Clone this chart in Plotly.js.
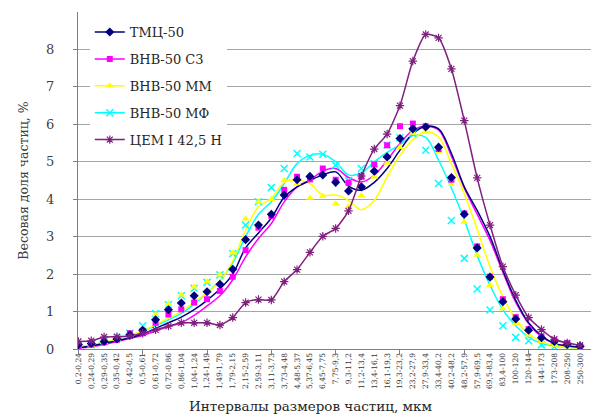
<!DOCTYPE html>
<html><head><meta charset="utf-8">
<script src="https://cdn.plot.ly/plotly-3.0.1.min.js"></script>
<style>html,body{margin:0;padding:0;background:#fff}</style>
</head><body><div id="chart" style="width:592px;height:414px"></div>
<script>
const categories = ["0,2-0,24","0,24-0,29","0,29-0,35","0,35-0,42","0,42-0,5","0,5-0,61","0,61-0,72","0,72-0,86","0,86-1,04","1,04-1,24",
"1,24-1,49","1,49-1,79","1,79-2,15","2,15-2,59","2,59-3,11","3,11-3,73","3,73-4,48","4,48-5,37","5,37-6,45","6,45-7,75",
"7,75-9,3","9,3-11,2","11,2-13,4","13,4-16,1","16,1-19,3","19,3-23,2","23,2-27,9","27,9-33,4","33,4-40,2","40,2-48,2",
"48,2-57,9","57,9-69,5","69,5-83,4","83,4-100","100-120","120-144","144-173","173-208","208-250","250-300"];

const seriesNames = ["ТМЦ-50","ВНВ-50 С3","ВНВ-50 ММ","ВНВ-50 МФ","ЦЕМ I 42,5 Н"];

// measured points (markers)
const tmcPts = [0.12,0.15,0.2,0.27,0.38,0.5,0.78,1.05,1.23,1.42,1.53,1.73,2.13,2.92,3.31,3.6,4.11,4.52,4.61,4.65,4.45,4.22,4.33,4.75,5.13,5.62,5.88,5.93,5.39,4.58,3.6,2.7,1.92,1.26,0.8,0.5,0.3,0.2,0.12,0.07];
const c3Pts = [0.08,0.12,0.18,0.25,0.42,0.48,0.7,0.92,1.06,1.24,1.33,1.55,1.93,2.64,3.24,3.55,4.25,4.6,4.53,4.82,4.52,4.44,4.6,4.93,5.44,5.95,6.02,5.95,5.34,4.52,3.62,2.74,1.93,1.33,0.85,0.53,0.34,0.22,0.15,0.08];
const mmPts = [0.0,0.1,0.18,0.28,0.38,0.55,0.92,1.2,1.45,1.66,1.8,1.98,2.57,3.48,3.93,4.0,4.51,4.42,4.03,4.08,3.88,3.8,4.1,4.6,4.97,5.39,5.77,5.8,5.28,4.4,3.39,2.51,1.7,1.08,0.68,0.38,0.2,0.11,0.06,0.03];
const mfPts = [0.1,0.12,0.22,0.3,0.42,0.62,0.95,1.18,1.42,1.62,1.78,1.98,2.55,3.31,3.93,4.31,4.82,5.22,5.13,5.2,4.91,4.5,4.82,4.95,5.45,5.64,5.75,5.31,4.42,3.43,2.42,1.6,1.04,0.62,0.31,0.22,0.11,0.06,0.03,0.02];
const cemPts = [0.2,0.22,0.32,0.33,0.35,0.42,0.51,0.61,0.7,0.7,0.7,0.64,0.84,1.24,1.32,1.31,1.8,2.12,2.58,3.01,3.22,3.69,4.62,5.34,5.74,6.5,7.69,8.4,8.31,7.48,6.1,4.57,3.31,2.2,1.44,0.84,0.52,0.26,0.16,0.1];

// smoothed curves
const tmcCurve = [0.03,0.08,0.15,0.22,0.3,0.4,0.55,0.7,0.85,1.05,1.3,1.6,2.0,2.7,3.1,3.5,4.05,4.33,4.5,4.65,4.73,4.35,4.24,4.45,4.82,5.31,5.75,5.95,5.88,5.22,4.33,3.7,3.0,2.1,1.3,0.7,0.35,0.15,0.08,0.05];
const c3Curve = [0.02,0.06,0.12,0.2,0.28,0.36,0.48,0.6,0.7,0.9,1.15,1.42,1.85,2.46,2.95,3.35,3.93,4.33,4.51,4.75,4.82,4.58,4.46,4.64,5.04,5.49,5.84,5.95,5.85,5.15,4.3,3.6,2.9,2.05,1.25,0.68,0.33,0.15,0.08,0.05];
const mmCurve = [0.05,0.1,0.18,0.26,0.36,0.48,0.65,0.82,1.0,1.25,1.5,1.8,2.35,3.17,3.8,4.02,4.45,4.51,4.42,4.11,4.11,3.97,3.72,3.97,4.6,5.17,5.59,5.8,5.66,4.95,4.15,3.2,2.2,1.4,0.8,0.4,0.2,0.1,0.05,0.03];
const mfCurve = [0.06,0.1,0.18,0.26,0.36,0.48,0.62,0.78,0.95,1.2,1.5,1.82,2.3,3.0,3.6,3.93,4.42,4.95,5.17,5.2,5.0,4.65,4.7,5.0,5.25,5.45,5.7,5.65,5.04,4.3,3.45,2.5,1.7,1.05,0.62,0.32,0.15,0.08,0.05,0.03];

const yTicks = [0,1,2,3,4,5,6,7,8];
const majorTickStep = 5;

const colors = {tmc:'#000080', c3:'#FF00FF', mm:'#FFFF00', mf:'#00FFFF', cem:'#7F1F7F'};
const serif = 'DejaVu Serif';

function curve(y, color){
  return {x: categories, y: y, mode:'lines', line:{color:color, width:1.5, shape:'spline', smoothing:1}, showlegend:false, hoverinfo:'skip'};
}
function pts(y, marker){
  return {x: categories, y: y, mode:'markers', marker: marker, showlegend:false};
}
function legendOnly(name, color, marker, rank){
  return {x:[null], y:[null], mode:'lines+markers', name:name, legendgroup:'g'+rank, line:{color:color, width:1.5}, marker:marker, legendrank:rank};
}

const mk = {
  tmc: {symbol:'diamond', size:7, color:colors.tmc},
  c3: {symbol:'square', size:6, color:colors.c3},
  mm: {symbol:'triangle-up', size:7, color:colors.mm},
  mf: {symbol:'x-thin', size:7, color:colors.mf, line:{color:colors.mf, width:1.5}},
  cem: {symbol:'asterisk', size:7, color:colors.cem, line:{color:colors.cem, width:1.2}}
};

const data = [
  curve(mfCurve, colors.mf),
  curve(mmCurve, colors.mm),
  curve(c3Curve, colors.c3),
  curve(tmcCurve, colors.tmc),
  pts(mfPts, mk.mf),
  pts(mmPts, mk.mm),
  pts(c3Pts, mk.c3),
  pts(tmcPts, mk.tmc),
  {x: categories, y: cemPts, mode:'lines+markers', name: seriesNames[4], legendgroup:'g5', line:{color:colors.cem, width:1.5, shape:'spline', smoothing:0.6}, marker: mk.cem, legendrank:5},
  legendOnly(seriesNames[0], colors.tmc, mk.tmc, 1),
  legendOnly(seriesNames[1], colors.c3, mk.c3, 2),
  legendOnly(seriesNames[2], colors.mm, mk.mm, 3),
  legendOnly(seriesNames[3], colors.mf, mk.mf, 4),
  {x:[0, categories.length-1], y:[null,null], xaxis:'x2', mode:'lines', showlegend:false, hoverinfo:'skip'}
];

const xr = [-0.03, categories.length - 1 + 0.85];
const layout = {
  width:592, height:414,
  margin:{l:78, r:1, t:12, b:65},
  paper_bgcolor:'#fff', plot_bgcolor:'#fff',
  font:{family:serif, color:'#404040'},
  showlegend:true,
  legend:{x:0.023, y:0.985, xanchor:'left', yanchor:'top', bgcolor:'#fff', borderwidth:0,
          font:{family:serif, size:13, color:'#262626'}, traceorder:'grouped', tracegroupgap:7},
  xaxis:{type:'category', range:xr, tickmode:'linear', tick0:0, dtick:1, tickangle:-90,
         ticks:'', showgrid:false, zeroline:false, showline:true, linecolor:'#808080', linewidth:1,
         tickfont:{family:serif, size:7.5, color:'#333'}, automargin:false},
  xaxis2:{overlaying:'x', anchor:'y', side:'bottom', range:xr, type:'linear', tickmode:'linear', tick0:0, dtick:majorTickStep,
          ticks:'outside', ticklen:5, tickcolor:'#808080', tickwidth:1, showticklabels:false, showgrid:false, zeroline:false, showline:false},
  yaxis:{range:[0,9], tickvals:yTicks, ticks:'outside', ticklen:4, tickcolor:'#808080', ticklabelstandoff:16,
         showgrid:true, gridcolor:'#A6A6A6', gridwidth:1, zeroline:false, showline:true, linecolor:'#808080',
         tickfont:{family:serif, size:13, color:'#404040'},
         title:{text:'Весовая доля частиц, %', font:{family:serif, size:12.5, color:'#404040'}, standoff:14}, automargin:false},
  annotations:[{text:'Интервалы размеров частиц, мкм', xref:'paper', yref:'paper', x:0.454, y:-0.168, xanchor:'center', yanchor:'middle',
                showarrow:false, font:{family:serif, size:13.5, color:'#262626'}}]
};

Plotly.newPlot('chart', data, layout, {displayModeBar:false, staticPlot:true});
</script></body></html>
